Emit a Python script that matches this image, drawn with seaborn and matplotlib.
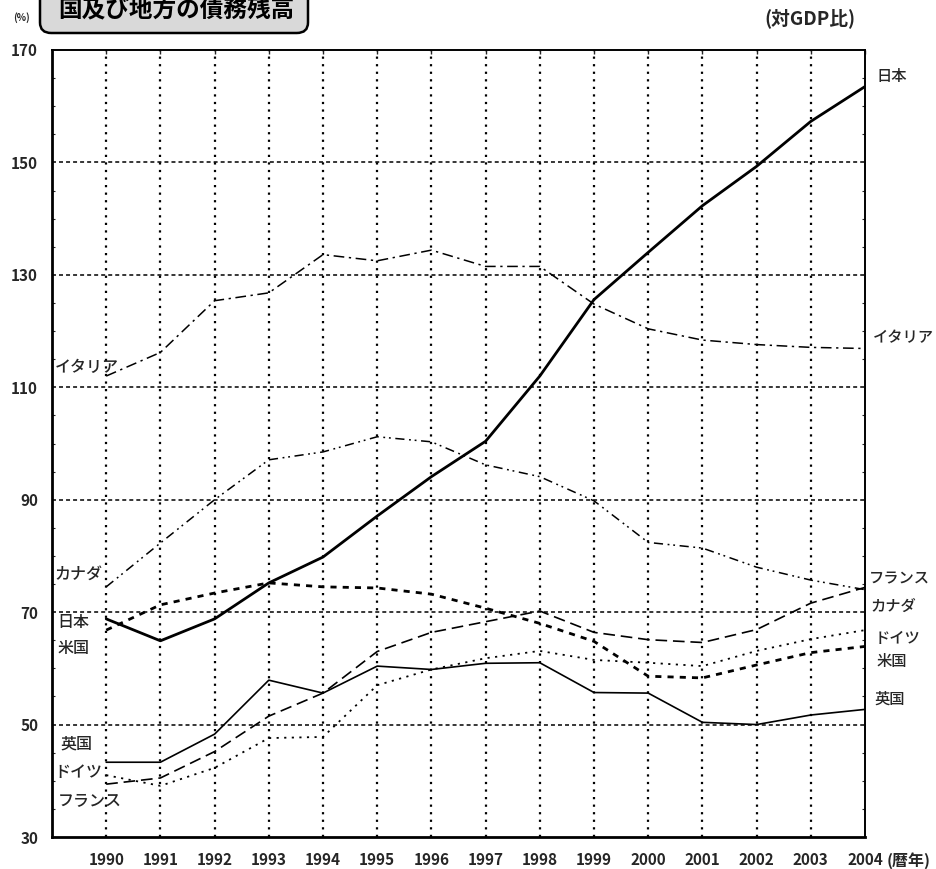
import numpy as np
import pandas as pd
import matplotlib
matplotlib.use("Agg")
import matplotlib.pyplot as plt
from matplotlib.patches import FancyBboxPatch
from matplotlib.ticker import MultipleLocator
import seaborn as sns

# data (% of GDP)
years = list(range(1990, 2005))
japan = [68.8, 64.9, 68.8, 75.2, 79.8, 87.1, 94.1, 100.4, 112.0, 125.6, 134.0, 142.3, 149.3, 157.3, 163.5]
italy = [112.0, 116.2, 125.4, 126.8, 133.6, 132.5, 134.4, 131.5, 131.5, 124.8, 120.4, 118.4, 117.6, 117.1, 116.9]
canada = [74.5, 82.3, 90.0, 97.1, 98.5, 101.2, 100.3, 96.2, 94.1, 89.8, 82.4, 81.4, 78.0, 75.7, 74.0]
usa = [66.8, 71.3, 73.4, 75.2, 74.5, 74.3, 73.2, 70.7, 68.0, 64.8, 58.6, 58.3, 60.6, 62.8, 63.9]
france = [39.4, 40.5, 45.2, 51.5, 55.6, 63.0, 66.4, 68.3, 70.2, 66.4, 65.1, 64.6, 66.9, 71.6, 74.4]
germany = [41.0, 39.1, 42.3, 47.6, 47.8, 57.0, 59.8, 61.8, 63.1, 61.5, 61.0, 60.4, 63.1, 65.2, 66.8]
uk = [43.3, 43.3, 48.3, 57.9, 55.6, 60.4, 59.8, 60.9, 61.0, 55.7, 55.6, 50.4, 50.0, 51.7, 52.7]

y_ticks = [30, 50, 70, 90, 110, 130, 150, 170]

# series name -> (values, line style, width)
series = {
    "日本": (japan, "-", 2.0),
    "イタリア": (italy, (0, (7, 3, 1.5, 3)), 1.1),
    "カナダ": (canada, (0, (6, 3, 1.2, 2.5, 1.2, 3)), 1.1),
    "米国": (usa, (0, (2.2, 2.2)), 2.0),
    "フランス": (france, (0, (7, 3.5)), 1.2),
    "ドイツ": (germany, (0, (1.2, 3)), 1.3),
    "英国": (uk, "-", 1.2),
}

# label positions (year, value) left and right
left_labels = {
    "イタリア": (1989.05, 113.6),
    "カナダ": (1989.05, 76.8),
    "日本": (1989.1, 68.1),
    "米国": (1989.1, 63.6),
    "英国": (1989.15, 46.6),
    "ドイツ": (1989.05, 41.4),
    "フランス": (1989.1, 36.4),
}
right_labels = {
    "日本": (2004.22, 165.3),
    "イタリア": (2004.15, 118.8),
    "フランス": (2004.08, 75.9),
    "カナダ": (2004.1, 71.1),
    "ドイツ": (2004.17, 65.3),
    "米国": (2004.22, 61.2),
    "英国": (2004.17, 54.6),
}

sns.set_style("white")
plt.rcParams["font.family"] = ["Noto Sans CJK JP", "DejaVu Sans"]

fig = plt.figure(figsize=(9.36, 8.69), dpi=100)
ax = fig.add_axes([52 / 936, 1 - 837 / 869, (865 - 52) / 936, (837 - 50) / 869])

for name, (vals, ls, lw) in series.items():
    sns.lineplot(x=years, y=vals, ax=ax, color="black", linestyle=ls, linewidth=lw)

ax.set_xlim(1989, 2004)
ax.set_ylim(30, 170)
ax.set_xticks(years)
ax.set_xticklabels([str(y) for y in years], fontsize=11, fontweight="bold")
ax.set_yticks(y_ticks)
ax.set_yticklabels([str(v) for v in y_ticks], fontsize=11, fontweight="bold")
ax.yaxis.set_minor_locator(MultipleLocator(5))

ax.tick_params(axis="x", which="major", direction="in", length=3, top=True, bottom=False,
               pad=11, width=1)
ax.tick_params(axis="y", which="major", direction="in", length=0, pad=10)
ax.tick_params(axis="y", which="minor", direction="in", length=2.5, left=True, right=True, width=0.8)

# grid: dotted verticals, dashed horizontals
for yr in years[:-1]:
    ax.axvline(yr, color="black", linestyle=(0, (1, 2.4)), linewidth=1.6, zorder=0)
for v in y_ticks[1:-1]:
    ax.axhline(v, color="black", linestyle=(0, (2.6, 2)), linewidth=1.1, zorder=0)

for s in ax.spines.values():
    s.set_color("black")
    s.set_linewidth(1.4)
ax.spines["left"].set_linewidth(2.0)
ax.spines["bottom"].set_linewidth(2.0)
ax.set_xlabel("")
ax.set_ylabel("")

for name, (x, y) in left_labels.items():
    ax.text(x, y, name, fontsize=11.5, fontweight="medium", ha="left", va="center", clip_on=False)
for name, (x, y) in right_labels.items():
    ax.text(x, y, name, fontsize=11, fontweight="medium", ha="left", va="center", clip_on=False)

fig.text(909 / 936, 1 - 861 / 869, "(暦年)", fontsize=11.5, ha="center", va="center",
         fontweight="bold")
fig.text(21 / 936, 1 - 18 / 869, "(%)", fontsize=7, ha="center", va="center", fontweight="bold")
fig.text(810 / 936, 1 - 18 / 869, "(対GDP比)", fontsize=13.5, ha="center", va="center",
         fontweight="bold")

# title box, cut off by the top edge as in the source scan
box = FancyBboxPatch((40 / 936, 1 - 33 / 869), (308 - 40) / 936, 60 / 869,
                     boxstyle="round,pad=0,rounding_size=0.012", transform=fig.transFigure,
                     facecolor="#d9d9d9", edgecolor="black", linewidth=1.8, clip_on=False)
fig.patches.append(box)
fig.text(176 / 936, 1 - 9 / 869, "国及び地方の債務残高", fontsize=17, ha="center", va="center",
         fontweight="bold", color="black")

fig.savefig("out.png", dpi=100)
